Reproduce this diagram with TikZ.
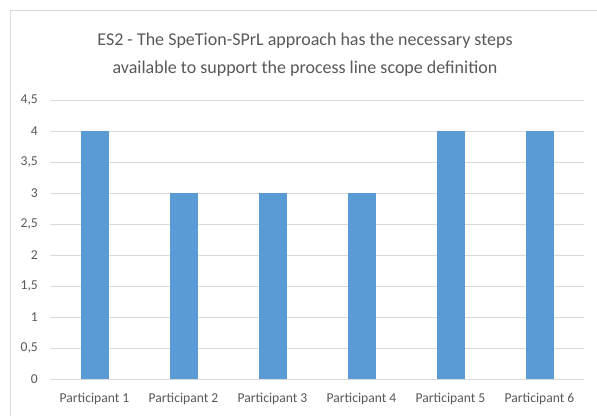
\documentclass[tikz,border=0pt]{standalone}
\usepackage{fontspec}
\setmainfont{Carlito}
\definecolor{barblue}{HTML}{5B9BD5}
\definecolor{gridgray}{HTML}{D9D9D9}
\definecolor{textgray}{HTML}{595959}
\begin{document}
\begin{tikzpicture}[x=1pt,y=-1pt,
  gridline/.style={draw=gridgray,line width=1pt},
  bar/.style={fill=barblue},
  ticklabel/.style={text=textgray,font=\fontsize{13.6}{15}\selectfont,inner sep=0pt},
  charttitle/.style={text=textgray,font=\fontsize{18}{28}\selectfont,align=center,inner sep=0pt}]
  \useasboundingbox (0,0) rectangle (597,416);
  \fill[white] (0,0) rectangle (597,416);
  % chart frame (left and top edges)
  \draw[gridgray,line width=1pt] (10,416) -- (10,10) -- (597,10);
  % title
  \node[charttitle] (title) at (305,55)
    {ES2 - The SpeTion-SPrL approach has the necessary steps\\available to support the process line scope definition};
  % horizontal grid lines and value labels (62 px per unit, zero at y=379)
  \foreach \v/\lab [count=\i] in {0/0,0.5/{0,5},1/1,1.5/{1,5},2/2,2.5/{2,5},3/3,3.5/{3,5},4/4,4.5/{4,5}} {
    \draw[gridline] (50,{379-62*\v}) -- (584,{379-62*\v});
    \node[ticklabel,anchor=east] (y\i) at (38,{379-62*\v}) {\lab};
  }
  % bars and category labels
  \foreach \val [count=\i] in {4,3,3,3,4,4} {
    \pgfmathsetmacro{\cx}{50+89*(\i-0.5)}
    \fill[bar] ({\cx-14},379) rectangle ({\cx+14},{379-62*\val});
    \node[ticklabel] (p\i) at (\cx,399) {Participant \i};
  }
\end{tikzpicture}
\end{document}
